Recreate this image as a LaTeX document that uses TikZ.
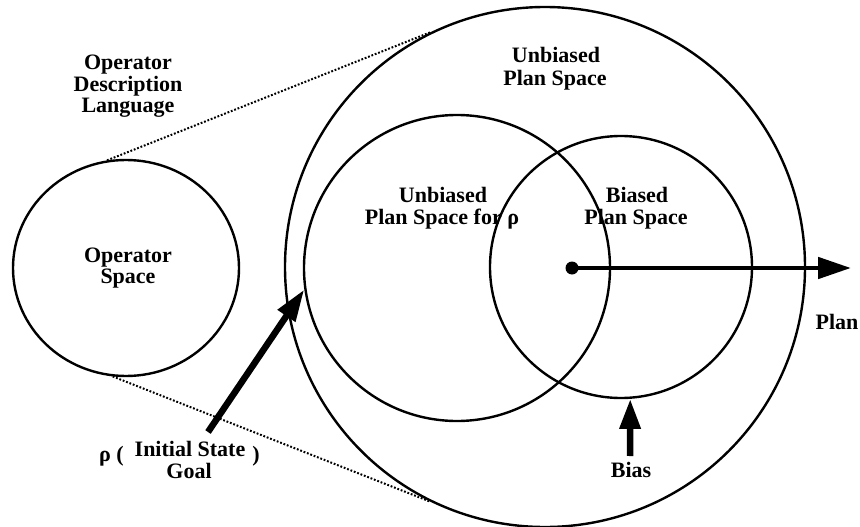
\documentclass[tikz,border=0pt]{standalone}
\usepackage{fontspec}
\setmainfont{Liberation Serif}
\usetikzlibrary{arrows.meta,shapes.geometric}
\begin{document}
\begin{tikzpicture}[x=1pt,y=-1pt,
  region/.style={draw, line width=2.4pt, inner sep=0pt},
  lbl/.style={font=\fontsize{22}{24}\selectfont\bfseries, inner sep=0pt, anchor=base},
  dots/.style={line width=2pt, dash pattern=on 1.8pt off 1.8pt},
  fatarrow/.style={line width=#1}
]
\useasboundingbox (0,0) rectangle (860,527);
% regions
\node[region, ellipse, minimum width=226pt, minimum height=216pt] (ops) at (126,268) {};
\node[region, circle, minimum size=520pt] (ups) at (545,267) {};
\node[region, circle, minimum size=306pt] (upr) at (457,268) {};
\node[region, circle, minimum size=262pt] (bps) at (621,267) {};
% dotted projection lines
\draw[dots] (ops.100) -- (ups.116);
\draw[dots] (ops.263) -- (ups.244);
% plan arrow
\node[circle, fill, minimum size=13pt, inner sep=0pt] (dot) at (572,268) {};
\coordinate (plantip) at (851,268);
\draw[fatarrow=4.8pt, -{Triangle[length=33pt,width=21pt]}] (dot.center) -- (plantip);
% initial state arrow
\coordinate (istail) at (208,432);
\draw[fatarrow=6.5pt, -{Triangle[length=32pt,width=20pt]}] (istail) -- (upr.188);
% bias arrow
\coordinate (biastail) at (630,456);
\draw[fatarrow=6.5pt, -{Triangle[length=30pt,width=20pt]}] (biastail) -- (bps.274);
% labels
\node[lbl] (odl1) at (128,70) {Operator};
\node[lbl] (odl2) at (128,92) {Description};
\node[lbl] (odl3) at (128,113) {Language};
\node[lbl] (os1) at (128,262) {Operator};
\node[lbl] (os2) at (128,283) {Space};
\node[lbl] (ups1) at (556,63) {Unbiased};
\node[lbl] (ups2) at (555,85) {Plan Space};
\node[lbl] (upr1) at (443,202) {Unbiased};
\node[lbl] (upr2) at (442,224) {Plan Space for ρ};
\node[lbl] (bps1) at (637,202) {Biased};
\node[lbl] (bps2) at (636,224) {Plan Space};
\node[lbl] (plan) at (837,329) {Plan};
\node[lbl] (bias) at (631,477) {Bias};
\node[lbl, anchor=base west] (rho) at (99,461) {ρ (};
\node[lbl] (init) at (190,456) {Initial State};
\node[lbl] (goal) at (189,478) {Goal};
\node[lbl] (rpar) at (256,461) {)};
\end{tikzpicture}
\end{document}
